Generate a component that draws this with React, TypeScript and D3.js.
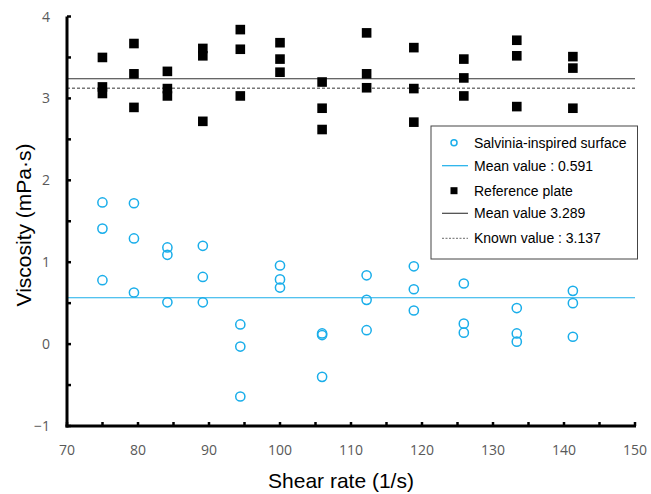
import React from "react";
import * as d3 from "d3";

const shearRates = [74.99, 79.43, 84.14, 89.13, 94.41, 100, 105.93, 112.2, 118.85, 125.89, 133.35, 141.25];

const salviniaValues = [
  [1.73, 1.41, 0.78],
  [1.72, 1.29, 0.63],
  [1.18, 1.09, 0.51],
  [1.2, 0.82, 0.51],
  [0.24, -0.03, -0.64],
  [0.96, 0.79, 0.69],
  [0.13, 0.11, -0.4],
  [0.84, 0.54, 0.17],
  [0.95, 0.67, 0.41],
  [0.74, 0.25, 0.14],
  [0.44, 0.13, 0.03],
  [0.65, 0.5, 0.09],
];

const referenceValues = [
  [3.5, 3.14, 3.06],
  [3.67, 3.3, 2.89],
  [3.33, 3.12, 3.03],
  [3.61, 3.52, 2.72],
  [3.84, 3.6, 3.03],
  [3.68, 3.48, 3.32],
  [3.2, 2.88, 2.62],
  [3.8, 3.3, 3.13],
  [3.62, 3.12, 2.71],
  [3.48, 3.25, 3.03],
  [3.71, 3.52, 2.9],
  [3.51, 3.37, 2.88],
];

const salviniaMeanLine = 0.566;
const referenceMeanLine = 3.24;
const knownValueLine = 3.125;

const xTicks = [70, 80, 90, 100, 110, 120, 130, 140, 150];
const xMinorTicks = [75, 85, 95, 105, 115, 125, 135, 145];
const yTicks = [-1, 0, 1, 2, 3, 4];
const yMinorTicks = [-0.5, 0.5, 1.5, 2.5, 3.5];

const legendLabels = [
  "Salvinia-inspired surface",
  "Mean value : 0.591",
  "Reference plate",
  "Mean value 3.289",
  "Known value : 3.137",
];

const BLUE = "#1aaeea";
const TICK_FONT = "'Open Sans', 'DejaVu Sans', sans-serif";
const LABEL_FONT = "'Liberation Sans', Arial, sans-serif";

export default function App() {
  const width = 651;
  const height = 494;
  const x = d3.scaleLinear().domain([70, 150]).range([67, 635]);
  const y = d3.scaleLinear().domain([-1, 4]).range([426, 16.5]);

  const lx0 = 431, ly0 = 126, lx1 = 637.5, ly1 = 259;
  const rowY = [142.7, 165.7, 190.7, 213.3, 238.3];
  const textX = 474;
  const sampleX0 = 442, sampleX1 = 468, markerX = 454;

  return (
    <svg
      width={width}
      height={height}
      style={{ position: "absolute", left: 0, top: 0, display: "block", background: "#fff" }}
    >
      {/* mean lines */}
      <line x1={x(70)} x2={x(150)} y1={y(salviniaMeanLine)} y2={y(salviniaMeanLine)} stroke={BLUE} strokeWidth={1.2} />
      <line x1={x(70)} x2={x(150)} y1={y(referenceMeanLine)} y2={y(referenceMeanLine)} stroke="#333" strokeWidth={1.2} />
      <line x1={x(70)} x2={x(150)} y1={y(knownValueLine)} y2={y(knownValueLine)} stroke="#333" strokeWidth={1} strokeDasharray="3,2" />

      {/* reference plate squares */}
      {referenceValues.map((vals, i) =>
        vals.map((v, j) => (
          <rect key={`r${i}-${j}`} x={x(shearRates[i]) - 4.8} y={y(v) - 4.8} width={9.6} height={9.6} fill="#000" />
        ))
      )}

      {/* salvinia circles */}
      {salviniaValues.map((vals, i) =>
        vals.map((v, j) => (
          <circle key={`s${i}-${j}`} cx={x(shearRates[i])} cy={y(v)} r={4.6} fill="none" stroke={BLUE} strokeWidth={1.5} />
        ))
      )}

      {/* axes */}
      <line x1={x(70)} x2={x(70)} y1={y(4)} y2={y(-1) + 1.5} stroke="#000" strokeWidth={3} />
      <line x1={x(70) - 1.5} x2={x(150) + 1} y1={y(-1)} y2={y(-1)} stroke="#000" strokeWidth={3} />
      {[...xTicks, ...xMinorTicks].map((t) => (
        <line key={`xt${t}`} x1={x(t)} x2={x(t)} y1={y(-1)} y2={y(-1) - 4} stroke="#000" strokeWidth={2.5} />
      ))}
      {[...yTicks, ...yMinorTicks].map((t) => (
        <line key={`yt${t}`} x1={x(70)} x2={x(70) + 4} y1={y(t)} y2={y(t)} stroke="#000" strokeWidth={2.5} />
      ))}
      {xTicks.map((t) => (
        <text key={`xl${t}`} x={x(t)} y={455} textAnchor="middle" fontFamily={TICK_FONT} fontSize={14} fill="#595959">
          {t}
        </text>
      ))}
      {yTicks.map((t) => (
        <text key={`yl${t}`} x={50} y={y(t) + 5} textAnchor="end" fontFamily={TICK_FONT} fontSize={14} fill="#595959">
          {t < 0 ? "\u2212" + Math.abs(t) : t}
        </text>
      ))}

      {/* axis titles */}
      <text x={341} y={488} textAnchor="middle" fontFamily={LABEL_FONT} fontSize={21} fill="#000">
        Shear rate (1/s)
      </text>
      <text
        transform={`translate(31, 225) rotate(-90)`}
        textAnchor="middle"
        fontFamily={LABEL_FONT}
        fontSize={21}
        fill="#000"
      >
        Viscosity (mPa·s)
      </text>

      {/* legend */}
      <rect x={lx0} y={ly0} width={lx1 - lx0} height={ly1 - ly0} fill="#fff" stroke="#444" strokeWidth={1} />
      <circle cx={markerX} cy={rowY[0]} r={3} fill="none" stroke={BLUE} strokeWidth={1.5} />
      <line x1={sampleX0} x2={sampleX1} y1={rowY[1]} y2={rowY[1]} stroke={BLUE} strokeWidth={1.2} />
      <rect x={markerX - 3.5} y={rowY[2] - 3.5} width={7} height={7} fill="#000" />
      <line x1={sampleX0} x2={sampleX1} y1={rowY[3]} y2={rowY[3]} stroke="#444" strokeWidth={1.2} />
      <line x1={sampleX0} x2={sampleX1} y1={rowY[4]} y2={rowY[4]} stroke="#444" strokeWidth={0.8} strokeDasharray="2,1.5" />
      {legendLabels.map((lab, i) => (
        <text key={lab} x={textX} y={rowY[i] + 5} fontFamily={LABEL_FONT} fontSize={14} fill="#000">
          {lab}
        </text>
      ))}
    </svg>
  );
}
